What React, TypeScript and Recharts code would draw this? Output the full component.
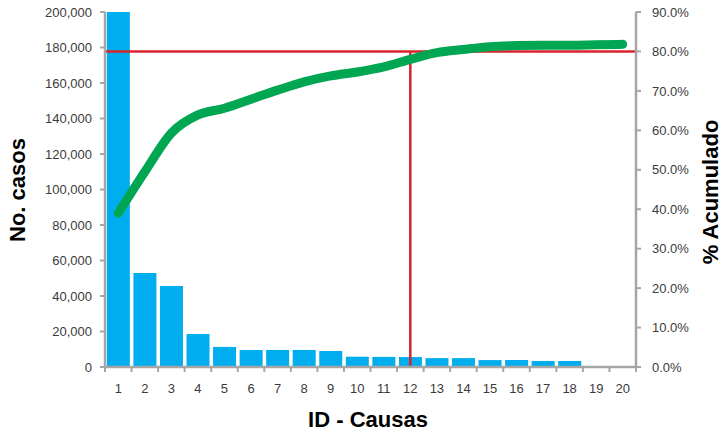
import { ComposedChart, Bar, Line, XAxis, YAxis, ReferenceLine } from 'recharts';

// causas (eje X)
const ids = [1, 2, 3, 4, 5, 6, 7, 8, 9, 10, 11, 12, 13, 14, 15, 16, 17, 18, 19, 20];
// número de casos por causa
const casos = [200000, 53000, 45600, 18600, 11300, 9600, 9600, 9600, 9000, 5800, 5700, 5600, 5000, 5000, 3900, 3900, 3400, 3400, 0, 0];
// % acumulado
const acumulado = [0.39, 0.495, 0.593, 0.639, 0.656, 0.679, 0.702, 0.723, 0.738, 0.748, 0.761, 0.78, 0.797, 0.805, 0.812, 0.815, 0.816, 0.816, 0.817, 0.818];

const casosTicks = [0, 20000, 40000, 60000, 80000, 100000, 120000, 140000, 160000, 180000, 200000];
const pctTicks = [0, 0.1, 0.2, 0.3, 0.4, 0.5, 0.6, 0.7, 0.8, 0.9];

const META = 0.8;
const CORTE = 12;

const data = ids.map((id, i) => ({ id, casos: casos[i], acumulado: acumulado[i] }));

const W = 724;
const H = 433;
const LEFT = 105;
const RIGHT = 88;
const TOP = 12;
const BOTTOM = 66;
const BAND = (W - LEFT - RIGHT) / ids.length;

const AXIS = '#a6a6a6';
const TEXT = '#3b3b3b';
const FONT = '"Liberation Sans", Arial, sans-serif';

const tickStyle = { fill: TEXT, fontSize: 13, fontFamily: FONT };

// Excel pone las marcas del eje X entre categorías
function XTick(props: any) {
  const { x, y, payload, index, visibleTicksCount } = props;
  const y0 = y - 17;
  return (
    <g>
      <line x1={x - BAND / 2} x2={x - BAND / 2} y1={y0} y2={y0 + 5} stroke={AXIS} strokeWidth={2} />
      {index === visibleTicksCount - 1 && (
        <line x1={x + BAND / 2} x2={x + BAND / 2} y1={y0} y2={y0 + 5} stroke={AXIS} strokeWidth={2} />
      )}
      <text x={x} y={y} dy="0.71em" textAnchor="middle" {...tickStyle}>
        {payload.value}
      </text>
    </g>
  );
}

const titleStyle: React.CSSProperties = {
  position: 'absolute',
  fontFamily: FONT,
  fontWeight: 'bold',
  fontSize: 22,
  color: '#000',
  whiteSpace: 'nowrap',
  lineHeight: 1,
};

export default function App() {
  return (
    <div style={{ position: 'relative', width: W, height: H, background: '#fff' }}>
      <style>{'body{margin:0}'}</style>
      <ComposedChart
        width={W}
        height={H}
        data={data}
        margin={{ top: TOP, right: 0, bottom: 0, left: 0 }}
        barCategoryGap="7%"
      >
        <XAxis
          dataKey="id"
          height={BOTTOM}
          tick={<XTick />}
          tickLine={false}
          tickSize={5}
          tickMargin={12}
          interval={0}
          axisLine={{ stroke: AXIS, strokeWidth: 2.5 }}
        />
        <YAxis
          yAxisId="left"
          width={LEFT}
          domain={[0, 200000]}
          ticks={casosTicks}
          interval={0}
          tickFormatter={(v: number) => v.toLocaleString('en-US')}
          tick={tickStyle}
          tickSize={5}
          tickMargin={8}
          tickLine={{ stroke: AXIS, strokeWidth: 2 }}
          axisLine={{ stroke: AXIS, strokeWidth: 2.5 }}
        />
        <YAxis
          yAxisId="right"
          orientation="right"
          width={RIGHT}
          domain={[0, 0.9]}
          ticks={pctTicks}
          interval={0}
          tickFormatter={(v: number) => (v * 100).toFixed(1) + '%'}
          tick={{ ...tickStyle, textAnchor: 'start' }}
          tickSize={5}
          tickMargin={11}
          tickLine={{ stroke: AXIS, strokeWidth: 2 }}
          axisLine={{ stroke: AXIS, strokeWidth: 2.5 }}
        />
        <Bar yAxisId="left" dataKey="casos" fill="#00aeef" isAnimationActive={false} />
        <ReferenceLine yAxisId="right" y={META} stroke="#d7242b" strokeWidth={2.5} />
        <ReferenceLine
          yAxisId="right"
          segment={[
            { x: CORTE, y: 0 },
            { x: CORTE, y: META },
          ]}
          stroke="#d7242b"
          strokeWidth={2.5}
        />
        <Line
          yAxisId="right"
          dataKey="acumulado"
          type="monotone"
          stroke="#00a651"
          strokeWidth={9}
          strokeLinecap="round"
          dot={false}
          activeDot={false}
          isAnimationActive={false}
        />
      </ComposedChart>
      <div style={{ ...titleStyle, left: 18, top: 190, transform: 'translate(-50%, -50%) rotate(-90deg)' }}>
        No. casos
      </div>
      <div style={{ ...titleStyle, left: 711, top: 192, transform: 'translate(-50%, -50%) rotate(-90deg)' }}>
        % Acumulado
      </div>
      <div style={{ ...titleStyle, left: 368, top: 420, transform: 'translate(-50%, -50%)' }}>
        ID - Causas
      </div>
    </div>
  );
}
